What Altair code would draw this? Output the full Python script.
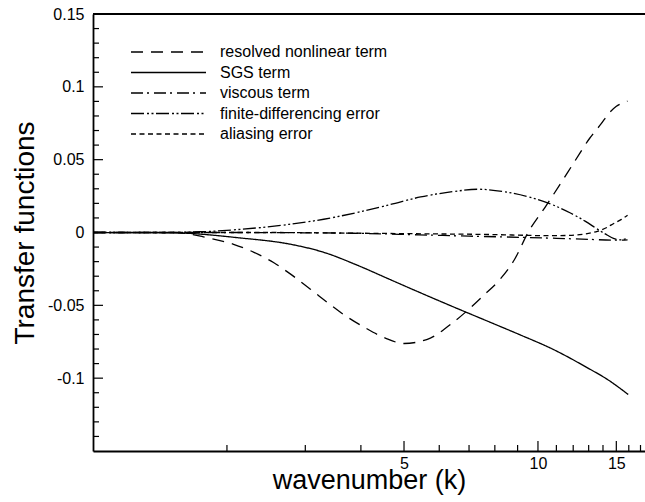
import altair as alt
import pandas as pd

FONT = "Liberation Sans"
PLOT_W = 552
PLOT_H = 437

series_names = ["resolved nonlinear term", "SGS term", "viscous term",
                "finite-differencing error", "aliasing error"]
dash_patterns = [[12, 8], [1, 0], [12, 4, 2, 5], [13, 3, 2, 2.5, 2, 2.5], [5, 3.5]]

resolved_k = [1.0, 1.5, 1.63, 1.79, 2.07, 2.3, 2.55, 2.76, 3.08, 3.38, 3.69, 4.1, 4.54, 5.0,
              5.73, 6.29, 6.94, 7.5, 8.24, 8.85, 9.5, 10.4, 11.24, 12.12, 13.07, 13.86,
              14.45, 14.98, 15.45, 15.89]
resolved_v = [0.0, 0.0, -0.0008, -0.0033, -0.0081, -0.0136, -0.0208, -0.0279, -0.0389,
              -0.0485, -0.0571, -0.0656, -0.0725, -0.0762, -0.0725, -0.0642, -0.0536, -0.044,
              -0.0317, -0.0187, 0.0, 0.0178, 0.0336, 0.0493, 0.0647, 0.0745, 0.082, 0.0865,
              0.0888, 0.0902]

sgs_k = [1.0, 1.5, 2.15, 2.76, 3.3, 3.93, 4.66, 5.53, 6.6, 7.82, 9.14, 10.83, 12.92, 14.33, 15.95]
sgs_v = [0.0, -0.0002, -0.0038, -0.0079, -0.0136, -0.0225, -0.0324, -0.0423, -0.0523, -0.0617,
         -0.0704, -0.0803, -0.0929, -0.1009, -0.1112]

viscous_k = [1.0, 2.0, 3.0, 3.85, 5.4, 7.0, 9.1, 11.0, 13.0, 15.0, 15.9]
viscous_v = [0.0, 0.0, -0.0002, -0.0005, -0.0016, -0.0025, -0.0033, -0.004, -0.0047, -0.0053,
             -0.005]

fd_k = [1.0, 1.4, 1.74, 2.15, 2.76, 3.3, 3.93, 4.66, 5.45, 6.46, 7.31, 8.37, 9.47, 10.67,
        11.83, 12.79, 13.68, 14.33, 14.78, 15.32, 15.89]
fd_v = [0.0, 0.0, 0.0005, 0.0022, 0.0056, 0.0091, 0.0138, 0.0192, 0.0244, 0.0281, 0.0297,
        0.0281, 0.0247, 0.0196, 0.0134, 0.0076, 0.0018, -0.0019, -0.004, -0.005, -0.004]

alias_k = [1.0, 2.5, 4.0, 6.0, 7.5, 9.0, 10.5, 11.8, 12.6, 13.6, 14.3, 14.8, 15.4, 15.9]
alias_v = [0.0, 0.0, -0.0005, -0.001, -0.0013, -0.0018, -0.0022, -0.002, -0.0012, 0.0008,
           0.0035, 0.0062, 0.009, 0.0118]

x_major_ticks = [5, 10, 15]
x_minor_ticks = [2, 3, 4, 6, 7, 8, 9, 11, 12, 13, 14, 16, 17]
y_major_ticks = [-0.1, -0.05, 0, 0.05, 0.1]
y_minor_ticks = [-0.14, -0.13, -0.12, -0.11, -0.09, -0.08, -0.07, -0.06, -0.04, -0.03,
                 -0.02, -0.01, 0.01, 0.02, 0.03, 0.04, 0.06, 0.07, 0.08, 0.09, 0.11, 0.12,
                 0.13, 0.14]
y_label_values = [-0.1, -0.05, 0, 0.05, 0.1, 0.15]

rows = []
for name, ks, vs in zip(series_names,
                        [resolved_k, sgs_k, viscous_k, fd_k, alias_k],
                        [resolved_v, sgs_v, viscous_v, fd_v, alias_v]):
    for k, v in zip(ks, vs):
        rows.append({"k": k, "v": v, "series": name})
df = pd.DataFrame(rows)

xscale = alt.Scale(type="log", domain=[1, 17.4], nice=False)
yscale = alt.Scale(domain=[-0.15, 0.15], nice=False, zero=False)

xaxis = alt.Axis(
    values=x_major_ticks, labelExpr="'' + datum.value", tickSize=0, grid=False,
    labelFont=FONT, labelFontSize=16, labelColor="black", labelPadding=4,
    labelFlush=False, domainColor="black", domainWidth=1.8,
    title="wavenumber (k)", titleFont=FONT, titleFontSize=27, titleFontWeight="normal",
    titleColor="black", titleX=PLOT_W / 2, titleY=37, titleBaseline="alphabetic",
    titleAlign="center",
)
yaxis = alt.Axis(
    values=y_label_values, labelExpr="'' + datum.value", tickSize=0, grid=False,
    labelFont=FONT, labelFontSize=16, labelColor="black", labelPadding=9,
    labelFlush=False, labelOverlap=False, domainColor="black", domainWidth=1.8,
    title="Transfer functions", titleFont=FONT, titleFontSize=28, titleFontWeight="normal",
    titleColor="black", titleAngle=270, titleX=-60, titleY=PLOT_H / 2,
    titleBaseline="alphabetic", titleAlign="center",
)

lines = alt.Chart(df).mark_line(color="black", strokeWidth=1.3, interpolate="monotone").encode(
    x=alt.X("k:Q", scale=xscale, axis=xaxis),
    y=alt.Y("v:Q", scale=yscale, axis=yaxis),
    strokeDash=alt.StrokeDash(
        "series:N",
        scale=alt.Scale(domain=series_names, range=dash_patterns),
        legend=alt.Legend(
            title=None, orient="none", legendX=37, legendY=30, padding=0,
            symbolType="stroke", symbolSize=5625, symbolStrokeWidth=1.3,
            symbolStrokeColor="black", labelFont=FONT, labelFontSize=16,
            labelColor="black", labelOffset=13, clipHeight=16, rowPadding=4.5,
            labelLimit=400,
        ),
    ),
)

xt_major = alt.Chart(pd.DataFrame({"k": x_major_ticks})).mark_rule(
    color="black", strokeWidth=1.2).encode(
    x=alt.X("k:Q", scale=xscale, axis=xaxis),
    y=alt.value(PLOT_H), y2=alt.value(PLOT_H - 10))
xt_minor = alt.Chart(pd.DataFrame({"k": x_minor_ticks})).mark_rule(
    color="black", strokeWidth=1.2).encode(
    x=alt.X("k:Q", scale=xscale, axis=xaxis),
    y=alt.value(PLOT_H), y2=alt.value(PLOT_H - 6))
yt_major = alt.Chart(pd.DataFrame({"v": y_major_ticks})).mark_rule(
    color="black", strokeWidth=1.2).encode(
    y=alt.Y("v:Q", scale=yscale, axis=yaxis),
    x=alt.value(0), x2=alt.value(10))
yt_minor = alt.Chart(pd.DataFrame({"v": y_minor_ticks})).mark_rule(
    color="black", strokeWidth=1.2).encode(
    y=alt.Y("v:Q", scale=yscale, axis=yaxis),
    x=alt.value(0), x2=alt.value(6))
top_line = alt.Chart(pd.DataFrame({"a": [0]})).mark_rule(
    color="black", strokeWidth=1.8).encode(
    x=alt.value(0), x2=alt.value(PLOT_W), y=alt.value(0))

chart = alt.layer(lines, xt_major, xt_minor, yt_major, yt_minor, top_line).properties(
    width=PLOT_W, height=PLOT_H,
    autosize=alt.AutoSizeParams(type="none"),
    padding={"left": 93, "top": 14, "right": 0, "bottom": 51},
).configure_view(stroke=None).configure(background="white")

chart.save("out.html", embed_options={"renderer": "svg", "actions": False})
